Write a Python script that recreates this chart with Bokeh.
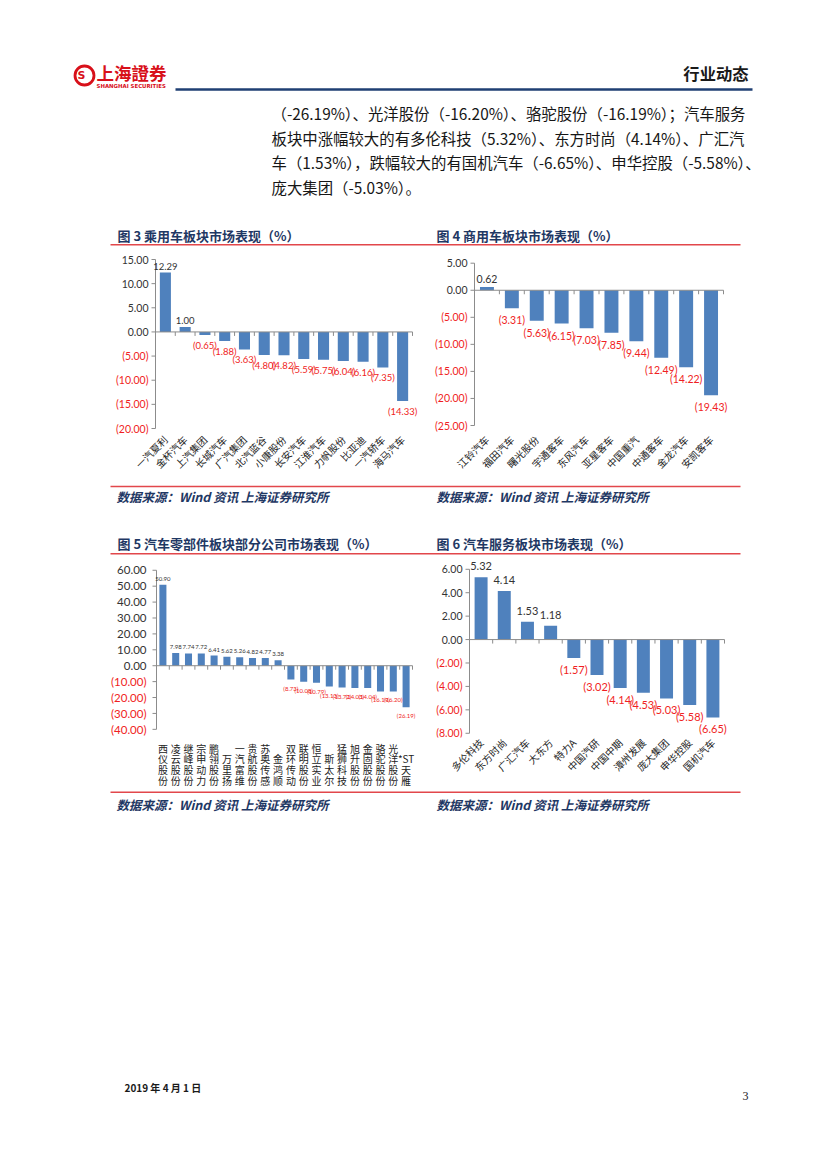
import math
from bokeh.plotting import figure
from bokeh.layouts import column, row
from bokeh.models import Range1d, FixedTicker
from bokeh.embed import file_html
from bokeh.resources import INLINE
from bokeh.core.properties import value

# ---------------- data ----------------
c3_names = ["一汽夏利", "金杯汽车", "上汽集团", "长城汽车", "广汽集团", "北汽蓝谷", "小康股份",
            "长安汽车", "江淮汽车", "力帆股份", "比亚迪", "一汽轿车", "海马汽车"]
c3_vals = [12.29, 1.00, -0.65, -1.88, -3.63, -4.80, -4.82, -5.59, -5.75, -6.04, -6.16, -7.35, -14.33]
c3_ticks = [15, 10, 5, 0, -5, -10, -15, -20]

c4_names = ["江铃汽车", "福田汽车", "曙光股份", "宇通客车", "东风汽车", "亚星客车", "中国重汽",
            "中通客车", "金龙汽车", "安凯客车"]
c4_vals = [0.62, -3.31, -5.63, -6.15, -7.03, -7.85, -9.44, -12.49, -14.22, -19.43]
c4_ticks = [5, 0, -5, -10, -15, -20, -25]

c5_names = ["西仪股份", "凌云股份", "继峰股份", "宗申动力", "鹏翎股份", "万里扬", "一汽富维",
            "贵航股份", "苏奥传感", "金鸿顺", "双环传动", "联明股份", "恒立实业", "斯太尔",
            "猛狮科技", "旭升股份", "金固股份", "骆驼股份", "光洋股份", "*ST天雁"]
c5_vals = [50.90, 7.98, 7.74, 7.72, 6.41, 5.62, 5.26, 4.82, 4.77, 3.38, -8.73, -10.08, -10.79,
           -13.13, -13.72, -14.03, -14.04, -16.19, -16.20, -26.19]
c5_ticks = [60, 50, 40, 30, 20, 10, 0, -10, -20, -30, -40]

c6_names = ["多伦科技", "东方时尚", "广汇汽车", "大东方", "特力A", "中国汽研", "中国中期",
            "漳州发展", "庞大集团", "申华控股", "国机汽车"]
c6_vals = [5.32, 4.14, 1.53, 1.18, -1.57, -3.02, -4.14, -4.53, -5.03, -5.58, -6.65]
c6_ticks = [6, 4, 2, 0, -2, -4, -6, -8]

para_lines = [
    "（-26.19%）、光洋股份（-16.20%）、骆驼股份（-16.19%）；汽车服务",
    "板块中涨幅较大的有多伦科技（5.32%）、东方时尚（4.14%）、广汇汽",
    "车（1.53%），跌幅较大的有国机汽车（-6.65%）、申华控股（-5.58%）、",
    "庞大集团（-5.03%）。",
]
titles_top = ["图 3  乘用车板块市场表现（%）", "图 4  商用车板块市场表现（%）"]
titles_bot = ["图 5  汽车零部件板块部分公司市场表现（%）", "图 6  汽车服务板块市场表现（%）"]
source_text = "数据来源：Wind 资讯 上海证券研究所"

# ---------------- style ----------------
CJK = "Noto Sans CJK SC"
NUM = "Liberation Sans Narrow, Lato"
BAR = "#4F81BD"
RED = "#F01E23"
DARK = "#333333"
NAVY = "#1F3864"
AX = "#8C8C8C"
LINE_RED = "#E2474B"


def fmt(v):
    return f"{v:.2f}" if v >= 0 else f"({-v:.2f})"


def strip(top, bottom):
    p = figure(width=811, height=bottom - top, x_range=Range1d(0, 811), y_range=Range1d(bottom, top),
               output_backend="svg", toolbar_location=None, x_axis_location=None,
               y_axis_location=None, min_border=0, outline_line_color=None, title=None)
    p.grid.visible = False
    return p


def txt(p, xs, ys, texts, size, color, font=CJK, align="left", baseline="middle", style="normal"):
    p.text(x=xs, y=ys, text=texts, text_font=value(font), text_font_size=size, text_color=color,
           text_align=align, text_baseline=baseline, text_font_style=style)


def chart(names, vals, ticks, L, W, T, H, A, E, v1, p1, v2, p2, FB, bw=0.56, cat_size="10px",
          orient=math.pi / 4, tick_size="10.5px", tick_off=7, val_size="10.5px", up=4, dn=5,
          labels=None, line_h=1.2):
    n = len(vals)
    idx = list(range(n))
    sx = (E - A) / n
    x0 = -0.5 - (A - L) / sx
    x1 = n - 0.5 + (L + W - E) / sx
    sy = (p2 - p1) / (v1 - v2)
    y1 = v1 + (p1 - T) / sy
    y0 = v2 - (FB - p2) / sy
    p = figure(width=W, height=H, x_range=Range1d(x0, x1), y_range=Range1d(y0, y1),
               output_backend="svg", toolbar_location=None, y_axis_location=None,
               min_border_left=0, min_border_right=0, min_border_top=0,
               min_border_bottom=T + H - FB, outline_line_color=None, title=None)
    p.grid.visible = False
    # bars
    p.vbar(x=idx, top=vals, bottom=0, width=bw, fill_color=BAR, line_color=None)
    # value axis
    lo, hi = min(ticks), max(ticks)
    p.segment(x0=[-0.5], y0=[lo], x1=[-0.5], y1=[hi], line_color=AX, line_width=1)
    p.ray(x=[-0.5] * len(ticks), y=ticks, length=4, angle=math.pi, length_units="screen",
          line_color=AX)
    p.text(x=[-0.5] * len(ticks), y=ticks, text=[fmt(t) for t in ticks], x_offset=-tick_off,
           text_align="right", text_baseline="middle", text_font=value(NUM),
           text_font_size=tick_size, text_color=[RED if t < 0 else DARK for t in ticks])
    # category axis at zero
    p.segment(x0=[-0.5], y0=[0], x1=[n - 0.5], y1=[0], line_color=AX, line_width=1)
    bounds = [i - 0.5 for i in range(n + 1)]
    p.ray(x=bounds, y=[0] * len(bounds), length=4, angle=-math.pi / 2, length_units="screen",
          line_color=AX)
    # value labels
    pi_ = [i for i in idx if vals[i] >= 0]
    ni_ = [i for i in idx if vals[i] < 0]
    p.text(x=pi_, y=[vals[i] for i in pi_], text=[fmt(vals[i]) for i in pi_], y_offset=-up,
           text_align="center", text_baseline="bottom", text_font=value(NUM),
           text_font_size=val_size, text_color=DARK)
    p.text(x=ni_, y=[vals[i] for i in ni_], text=[fmt(vals[i]) for i in ni_], y_offset=dn,
           text_align="center", text_baseline="top", text_font=value(NUM),
           text_font_size=val_size, text_color=RED)
    # category labels
    ax = p.xaxis[0]
    ax.ticker = FixedTicker(ticks=idx)
    lab = labels if labels is not None else names
    ax.major_label_overrides = {i: lab[i] for i in idx}
    ax.axis_line_color = None
    ax.major_tick_line_color = None
    ax.minor_tick_line_color = None
    ax.major_tick_out = 0
    ax.major_tick_in = 0
    ax.major_label_standoff = 3
    ax.major_label_orientation = orient
    ax.major_label_text_font = CJK
    ax.major_label_text_font_size = cat_size
    ax.major_label_text_line_height = line_h
    ax.major_label_text_color = "#222222"
    return p


def stacked(name):
    if name.startswith("*ST"):
        parts = ["*ST"] + list(name[3:])
    else:
        parts = list(name)
    if len(parts) < 4:
        parts = [" "] * (4 - len(parts)) + parts
    return "\n".join(parts)


# ---------------- page pieces ----------------
A_top, A_bot = 0, 250
R1_top, R1_bot = 250, 480
B_top, B_bot = 480, 556
R2_top, R2_bot = 556, 790
C_top, C_bot = 790, 1161
FB1 = 434
FB2 = 740

sa = strip(A_top, A_bot)
sa.scatter(x=[84], y=[75], size=19, marker="circle", fill_color=None, line_color="#D8101A",
           line_width=2.8)
txt(sa, [81], [75], ["S"], "11px", "#D8101A", font="DejaVu Sans", align="center", style="bold")
txt(sa, [96], [72], ["上海證券"], "17.5px", "#D8101A", style="bold")
txt(sa, [96], [85], ["SHANGHAI SECURITIES"], "5.4px", "#D8101A", font="DejaVu Sans", style="bold")
txt(sa, [748], [72], ["行业动态"], "16.3px", "#1A1A1A", align="right", style="bold")
sa.segment(x0=[175], y0=[89], x1=[752], y1=[89], line_color="#1F3F73", line_width=2.5)
txt(sa, [271] * 4, [112, 137, 161, 186], para_lines, "15.4px", "#161616")
txt(sa, [117, 436], [235, 235], titles_top, "13px", NAVY, style="bold")
sa.segment(x0=[110], y0=[244.3], x1=[740], y1=[244.3], line_color=LINE_RED, line_width=1.5)

p3 = chart(c3_names, c3_vals, c3_ticks, 0, 420, R1_top, R1_bot - R1_top, 155, 412,
           15, 259, -20, 428, FB1, bw=0.56, up=3, dn=5, val_size="9.5px")
p4 = chart(c4_names, c4_vals, c4_ticks, 420, 391, R1_top, R1_bot - R1_top, 474, 723,
           5, 262.7, -25, 425, FB1, bw=0.56, up=4, dn=6)

sb = strip(B_top, B_bot)
sb.segment(x0=[110], y0=[486], x1=[740], y1=[486], line_color=LINE_RED, line_width=1.5)
txt(sb, [116, 436], [496, 496], [source_text, source_text], "12.5px", NAVY, style="bold italic")
txt(sb, [117, 436], [542.7, 542.7], titles_bot, "13px", NAVY, style="bold")
sb.segment(x0=[110], y0=[553.3], x1=[740], y1=[553.3], line_color=LINE_RED, line_width=1.5)

p5 = chart(c5_names, c5_vals, c5_ticks, 0, 420, R2_top, R2_bot - R2_top, 156, 412,
           60, 570, -40, 731.7, FB2, bw=0.55, cat_size="10px", orient="horizontal",
           tick_size="11.5px", tick_off=10, val_size="6px", up=4, dn=5,
           labels=[stacked(nm) for nm in c5_names], line_h=0.72)
p6 = chart(c6_names, c6_vals, c6_ticks, 420, 391, R2_top, R2_bot - R2_top, 469, 724,
           6, 569, -8, 735.7, FB2, bw=0.56, up=7, dn=5, val_size="11px")

sc = strip(C_top, C_bot)
sc.segment(x0=[110], y0=[791.7], x1=[740], y1=[791.7], line_color=LINE_RED, line_width=1.5)
txt(sc, [116, 436], [803.5, 803.5], [source_text, source_text], "12.5px", NAVY, style="bold italic")
txt(sc, [124], [1087], ["2019 年 4 月 1 日"], "10px", "#1A1A1A", style="bold")
txt(sc, [748], [1095], ["3"], "12px", "#1A1A1A", font="Liberation Serif", align="right")

layout = column(sa, row(p3, p4), sb, row(p5, p6), sc, spacing=0)
open("out.html", "w").write(file_html(layout, INLINE))
